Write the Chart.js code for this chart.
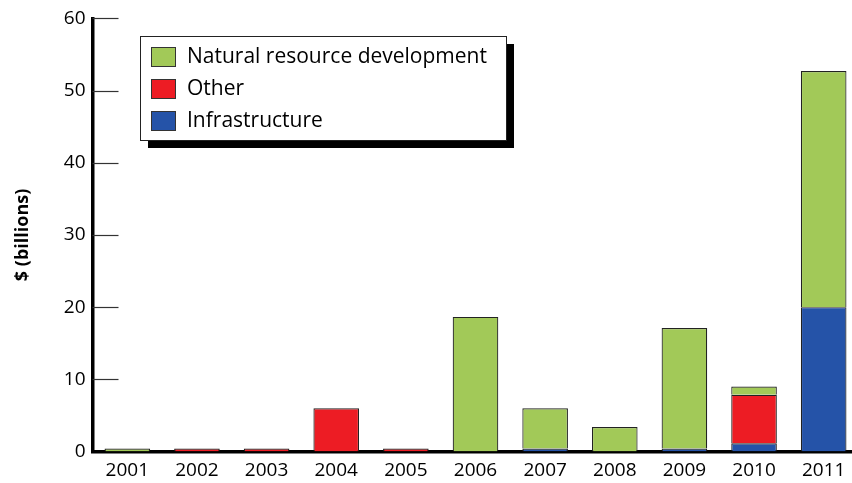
<!DOCTYPE html>
<html>
<head>
<meta charset="utf-8">
<script src="https://cdn.jsdelivr.net/npm/chart.js@4.4.1/dist/chart.umd.min.js"></script>
<style>
  html, body { margin: 0; padding: 0; background: #fff; overflow: hidden; }
  #wrap { width: 852px; height: 483px; overflow: hidden; }
</style>
</head>
<body>
<div id="wrap"><canvas id="investChart" width="860" height="483"></canvas></div>
<script>
const years = ['2001', '2002', '2003', '2004', '2005', '2006', '2007', '2008', '2009', '2010', '2011'];
// $ billions (stacked bottom to top)
const infrastructure = [null, null, null, null, null, null, 0.4, null, 0.4, 1.15, 20.0];
const other = [null, 0.4, 0.4, 6.0, 0.4, null, null, null, null, 6.7, null];
const naturalResource = [0.4, null, null, null, null, 18.65, 5.6, 3.4, 16.7, 1.15, 32.7];
const yTicks = [0, 10, 20, 30, 40, 50, 60];

const FONT = '"Open Sans", "Noto Sans", sans-serif';

// short tick marks drawn inside the plot, off the y axis
const innerTicks = {
  id: 'innerTicks',
  afterDatasetsDraw(chart) {
    const { ctx, chartArea, scales } = chart;
    ctx.save();
    ctx.strokeStyle = '#333';
    ctx.lineWidth = 1.2;
    yTicks.forEach(v => {
      if (v === 0) return;
      const y = Math.round(scales.y.getPixelForValue(v)) + 0.5;
      ctx.beginPath();
      ctx.moveTo(chartArea.left, y);
      ctx.lineTo(chartArea.left + 26, y);
      ctx.stroke();
    });
    ctx.restore();
  }
};

// boxed legend with a hard drop shadow, in reverse stack order
const boxLegend = {
  id: 'boxLegend',
  afterDraw(chart) {
    const { ctx } = chart;
    const x = 140, y = 36, w = 366, h = 104;
    ctx.save();
    ctx.fillStyle = '#000';
    ctx.fillRect(x + 8, y + 8, w, h);
    ctx.fillStyle = '#fff';
    ctx.fillRect(x, y, w, h);
    ctx.strokeStyle = '#222';
    ctx.lineWidth = 1;
    ctx.strokeRect(x + 0.5, y + 0.5, w, h);
    const items = chart.data.datasets.slice().reverse();
    ctx.font = '21px ' + FONT;
    ctx.textBaseline = 'middle';
    items.forEach((ds, i) => {
      const ry = 47 + i * 32;
      ctx.fillStyle = ds.backgroundColor;
      ctx.fillRect(151, ry, 24, 19);
      ctx.strokeStyle = '#333';
      ctx.strokeRect(151.5, ry + 0.5, 24, 19);
      ctx.fillStyle = '#000';
      ctx.fillText(ds.label, 187, ry + 10);
    });
    ctx.restore();
  }
};

const ctx = document.getElementById('investChart').getContext('2d');
const investChart = new Chart(ctx, {
  type: 'bar',
  data: {
    labels: years,
    datasets: [
      { label: 'Infrastructure', data: infrastructure, backgroundColor: '#2553a8' },
      { label: 'Other', data: other, backgroundColor: '#ed1c24' },
      { label: 'Natural resource development', data: naturalResource, backgroundColor: '#a2c958' }
    ]
  },
  options: {
    responsive: false,
    animation: false,
    layout: { padding: { top: 18, right: 1.5, bottom: 0, left: 0 } },
    datasets: {
      bar: {
        borderColor: '#222',
        borderWidth: 1.2,
        categoryPercentage: 1,
        barPercentage: 0.655
      }
    },
    plugins: {
      legend: { display: false },
      tooltip: { enabled: false }
    },
    scales: {
      x: {
        stacked: true,
        grid: { display: false, drawTicks: false },
        border: { color: '#000', width: 3.5 },
        ticks: { color: '#000', font: { family: FONT, size: 19 }, padding: 8 },
        afterFit(scale) { scale.height = 31.5; }
      },
      y: {
        stacked: true,
        min: 0,
        max: 60,
        grid: { display: false, drawTicks: false },
        border: { color: '#000', width: 3.5 },
        ticks: {
          stepSize: 10,
          color: '#000',
          font: { family: FONT, size: 19 },
          padding: 7
        },
        title: {
          display: true,
          text: '$ (billions)',
          color: '#000',
          font: { family: FONT, size: 18, weight: 'bold' },
          padding: { top: 12, bottom: 0 }
        },
        afterFit(scale) { scale.width = 92.5; }
      }
    }
  },
  plugins: [innerTicks, boxLegend]
});
</script>
</body>
</html>
